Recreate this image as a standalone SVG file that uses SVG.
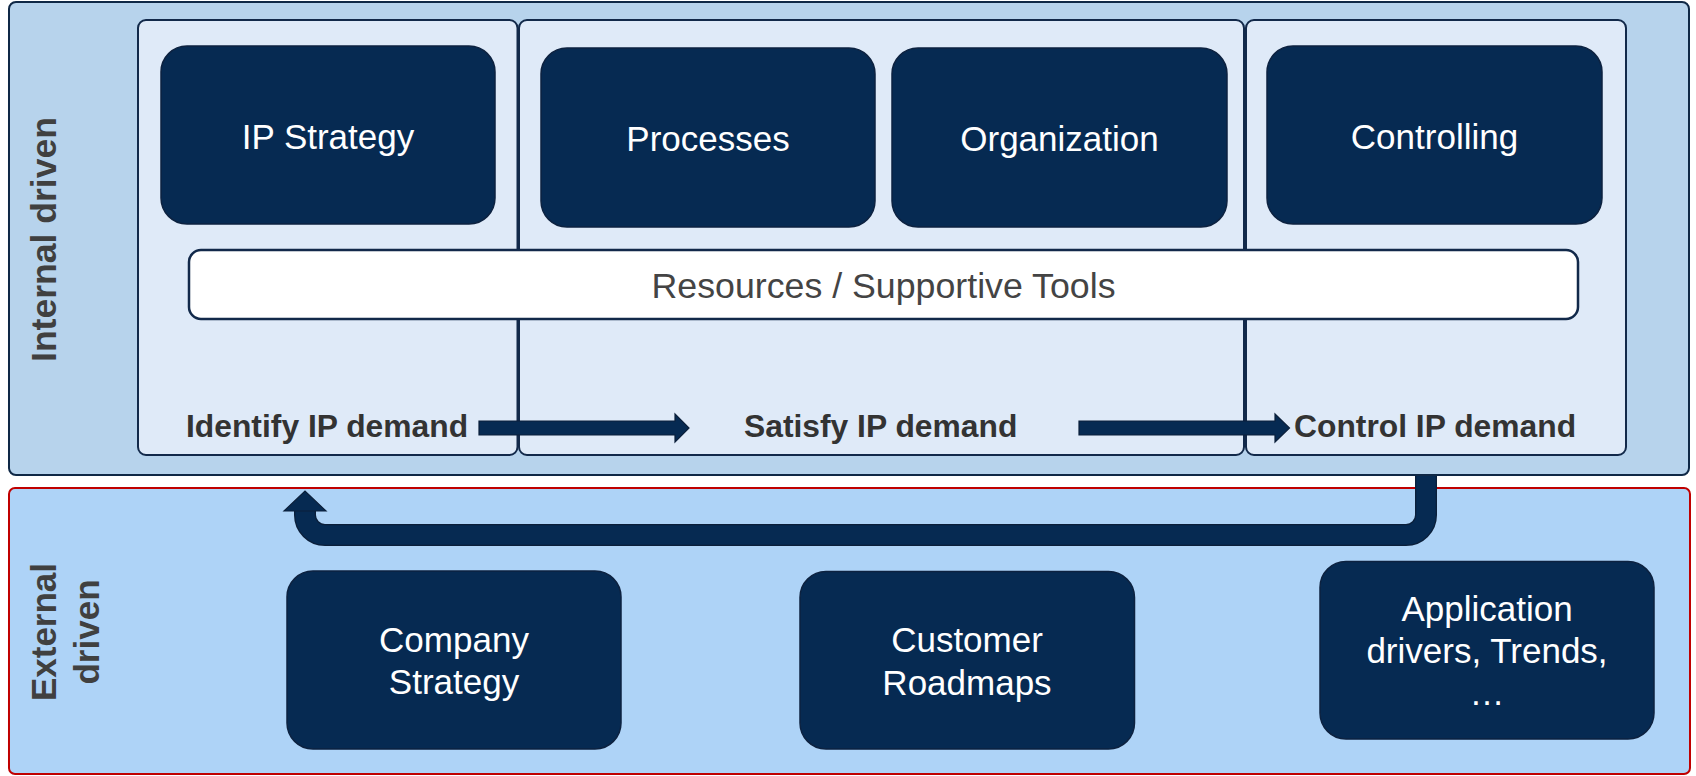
<svg xmlns="http://www.w3.org/2000/svg" width="1696" height="776" viewBox="0 0 1696 776">
<style>
.outer{fill:#b7d3ec;stroke:#0f2846;stroke-width:2}
.ext{fill:#aed3f7;stroke:#c00000;stroke-width:2}
.panel{fill:#dfeaf8;stroke:#12294a;stroke-width:2}
.box{fill:#062a52;stroke:#0d2240;stroke-width:1.5}
.bar{fill:#ffffff;stroke:#12294a;stroke-width:2.5}
.bt{font-family:"Liberation Sans",Arial,sans-serif;font-size:35px;fill:#ffffff;text-anchor:middle}
.res{font-family:"Liberation Sans",Arial,sans-serif;font-size:35px;fill:#444444;text-anchor:middle}
.lbl{font-family:"Liberation Sans",Arial,sans-serif;font-size:31.8px;font-weight:bold;fill:#333333}
.side{font-family:"Liberation Sans",Arial,sans-serif;font-size:35px;font-weight:bold;fill:#404040;text-anchor:middle}
.arr{fill:#062a52;stroke:#0b1f3a;stroke-width:1.2}
</style>
<g id="internal-area">
<rect class="outer" x="9" y="2" width="1680" height="473" rx="7"/>
<text class="side" transform="translate(56,239.5) rotate(-90)" textLength="245" lengthAdjust="spacingAndGlyphs">Internal driven</text>
</g>
<g id="external-area">
<rect class="ext" x="9" y="488" width="1681" height="286" rx="6"/>
<text class="side" transform="translate(56,632) rotate(-90)">External</text>
<text class="side" transform="translate(99,632) rotate(-90)">driven</text>
</g>
<g id="panel-identify">
<rect class="panel" x="138" y="20" width="379.5" height="435" rx="8"/>
</g>
<g id="panel-satisfy">
<rect class="panel" x="519" y="20" width="725" height="435" rx="8"/>
</g>
<g id="panel-control">
<rect class="panel" x="1246" y="20" width="380" height="435" rx="8"/>
</g>
<g id="node-ip-strategy">
<rect class="box" x="161" y="46" width="334" height="178" rx="26"/>
<text class="bt" x="328" y="149">IP Strategy</text>
</g>
<g id="node-processes">
<rect class="box" x="541" y="48" width="334" height="179" rx="26"/>
<text class="bt" x="708" y="151">Processes</text>
</g>
<g id="node-organization">
<rect class="box" x="892" y="48" width="335" height="179" rx="26"/>
<text class="bt" x="1059.5" y="151">Organization</text>
</g>
<g id="node-controlling">
<rect class="box" x="1267" y="46" width="335" height="178" rx="26"/>
<text class="bt" x="1434.5" y="148.5">Controlling</text>
</g>
<g id="node-resources">
<rect class="bar" x="189" y="250" width="1389" height="69" rx="12"/>
<text class="res" x="883.5" y="298" textLength="464" lengthAdjust="spacingAndGlyphs">Resources / Supportive Tools</text>
</g>
<g id="label-identify">
<text class="lbl" x="186" y="436.7">Identify IP demand</text>
</g>
<g id="label-satisfy">
<text class="lbl" x="744" y="436.7">Satisfy IP demand</text>
</g>
<g id="label-control">
<text class="lbl" x="1294" y="436.7">Control IP demand</text>
</g>
<g id="node-company-strategy">
<rect class="box" x="287" y="571" width="334" height="178" rx="26"/>
<text class="bt" x="454" y="651.5">Company</text>
<text class="bt" x="454" y="694">Strategy</text>
</g>
<g id="node-customer-roadmaps">
<rect class="box" x="800" y="571.5" width="334.5" height="177.5" rx="26"/>
<text class="bt" x="967" y="651.5">Customer</text>
<text class="bt" x="967" y="694.5">Roadmaps</text>
</g>
<g id="node-application-drivers">
<rect class="box" x="1320" y="561.5" width="334" height="177.5" rx="26"/>
<text class="bt" x="1487" y="621">Application</text>
<text class="bt" x="1487" y="663">drivers, Trends,</text>
<text class="bt" x="1487" y="705">…</text>
</g>
<g id="connectors">
<polygon class="arr" points="479,421 675,421 675,414 689,428 675,442 675,435 479,435"/>
<polygon class="arr" points="1079,421 1275,421 1275,414 1289.5,428 1275,442 1275,435 1079,435"/>
<path d="M1426,476 V515 A20,20 0 0 1 1406,535 H325 A20,20 0 0 1 305,515 V510" fill="none" stroke="#0b1f3a" stroke-width="22"/>
<path d="M1426,476 V515 A20,20 0 0 1 1406,535 H325 A20,20 0 0 1 305,515 V509" fill="none" stroke="#062a52" stroke-width="19.5"/>
<polygon class="arr" points="284,511 326,511 305,491"/>
</g>
</svg>
